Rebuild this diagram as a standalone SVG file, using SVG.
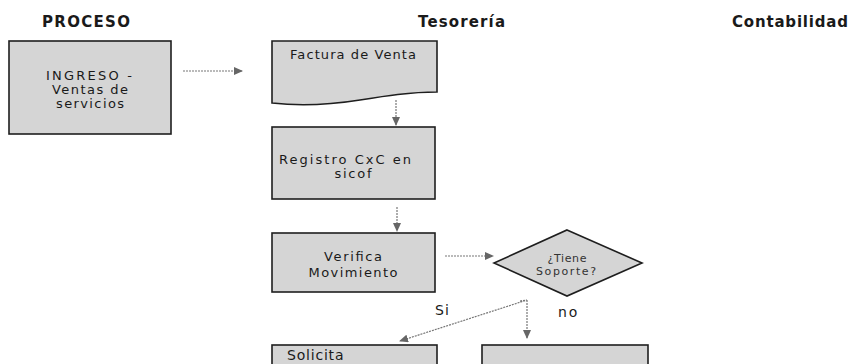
<svg xmlns="http://www.w3.org/2000/svg" width="850" height="364" viewBox="0 0 850 364">
<style>
.hdr{font-family:"DejaVu Sans","Liberation Sans",sans-serif;font-weight:bold;font-size:15px;fill:#1a1a1a}
.box{fill:#d5d5d5;stroke:#1e1e1e;stroke-width:1.6}
.t{font-family:"DejaVu Sans","Liberation Sans",sans-serif;font-size:13px;fill:#1a1a1a;text-anchor:middle}
.ts{font-family:"DejaVu Sans","Liberation Sans",sans-serif;font-size:11px;fill:#333;text-anchor:middle}
.lbl{font-family:"DejaVu Sans","Liberation Sans",sans-serif;font-size:14px;fill:#1a1a1a}
.con{fill:none;stroke:#777;stroke-width:1.2;stroke-dasharray:2 1}
</style>
<defs>
<marker id="ah" markerUnits="userSpaceOnUse" markerWidth="9" markerHeight="8" refX="8" refY="4" orient="auto">
<path d="M0,0 L9,4 L0,8 Z" fill="#666"/>
</marker>
</defs>
<rect width="850" height="364" fill="#ffffff"/>
<g id="headers">
<text class="hdr" x="42" y="27" textLength="88" lengthAdjust="spacing">PROCESO</text>
<text class="hdr" x="418" y="27" textLength="87" lengthAdjust="spacing">Tesorería</text>
<text class="hdr" x="732" y="27" textLength="116" lengthAdjust="spacing">Contabilidad</text>
</g>
<g id="connectors">
<line class="con" x1="183" y1="71" x2="242" y2="71" marker-end="url(#ah)"/>
<line class="con" x1="396" y1="100" x2="396" y2="125" marker-end="url(#ah)"/>
<line class="con" x1="397" y1="207" x2="397" y2="231" marker-end="url(#ah)"/>
<line class="con" x1="445" y1="256" x2="493" y2="256" marker-end="url(#ah)"/>
<path class="con" d="M520,301 L527,300 L400,341" marker-end="url(#ah)"/>
<line class="con" x1="527" y1="300" x2="527" y2="338" marker-end="url(#ah)"/>
</g>
<g id="ingreso">
<rect class="box" x="9" y="41" width="162" height="93"/>
<text class="t" x="89" y="80" textLength="86" lengthAdjust="spacing">INGRESO -</text>
<text class="t" x="90" y="94" textLength="76" lengthAdjust="spacing">Ventas de</text>
<text class="t" x="90" y="108" textLength="68" lengthAdjust="spacing">servicios</text>
</g>
<g id="factura">
<path class="box" d="M272,41 H437 V92 C410,92 385,96 360,100 C335,104 305,107 272,103 Z"/>
<text class="t" x="353" y="59" font-size="12.5" textLength="126" lengthAdjust="spacing">Factura de Venta</text>
</g>
<g id="registro">
<rect class="box" x="272" y="127" width="163" height="72"/>
<text class="t" x="345" y="164" textLength="132" lengthAdjust="spacing">Registro CxC en</text>
<text class="t" x="353" y="178" textLength="37" lengthAdjust="spacing">sicof</text>
</g>
<g id="verifica">
<rect class="box" x="272" y="233" width="163" height="59"/>
<text class="t" x="353" y="261" textLength="58" lengthAdjust="spacing">Verifica</text>
<text class="t" x="353" y="277" textLength="89" lengthAdjust="spacing">Movimiento</text>
</g>
<g id="soporte">
<path class="box" d="M567,230 L642,263 L567,296 L494,263 Z"/>
<text class="ts" x="567" y="262" textLength="39" lengthAdjust="spacing">¿Tiene</text>
<text class="ts" x="566" y="275" textLength="60" lengthAdjust="spacing">Soporte?</text>
</g>
<g id="labels">
<text class="lbl" x="435" y="315" letter-spacing="1">Si</text>
<text class="lbl" x="558" y="317" letter-spacing="2">no</text>
</g>
<g id="solicita">
<rect class="box" x="272" y="345" width="165" height="40"/>
<text class="lbl" x="287" y="360" font-size="12" letter-spacing="0.8">Solicita</text>
</g>
<g id="no-box">
<rect class="box" x="482" y="345" width="166" height="40"/>
</g>
</svg>
